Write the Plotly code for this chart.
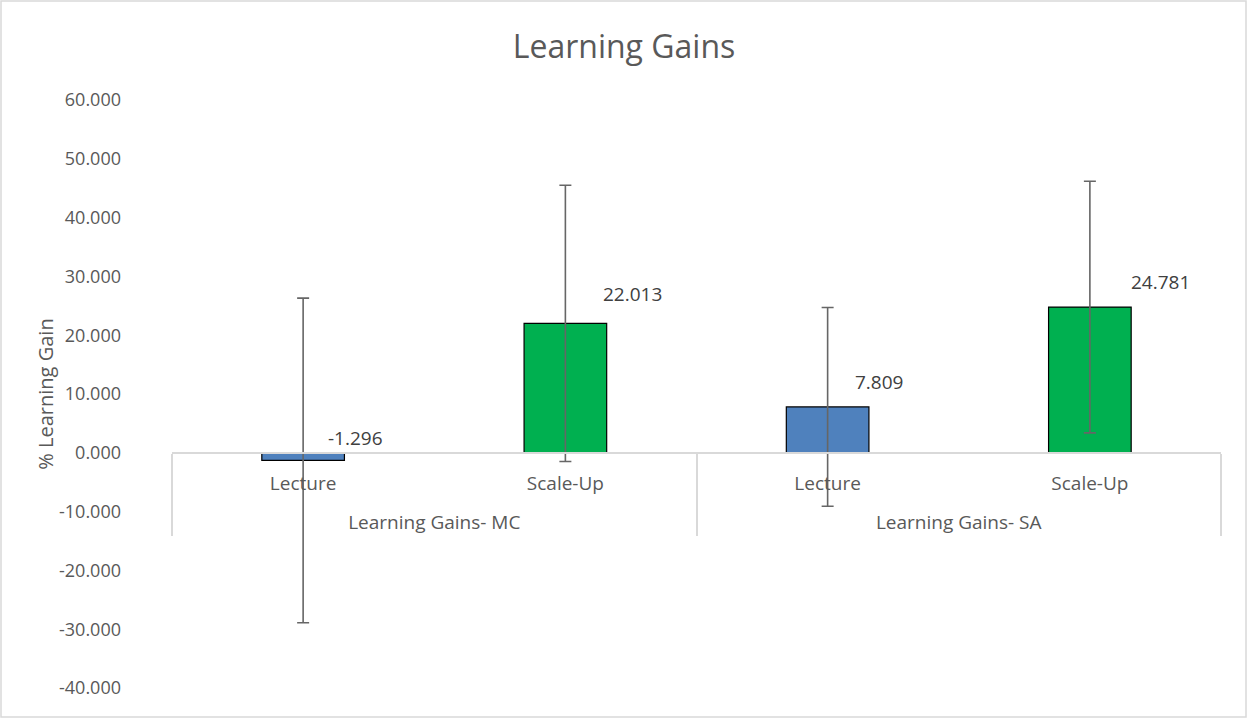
import plotly.graph_objects as go

groups = ["Learning Gains- MC", "Learning Gains- MC", "Learning Gains- SA", "Learning Gains- SA"]
methods = ["Lecture", "Scale-Up", "Lecture", "Scale-Up"]
gains = [-1.296, 22.013, 7.809, 24.781]
errors = [27.6, 23.5, 16.9, 21.4]
bar_colors = ["#4f81bd", "#00b050", "#4f81bd", "#00b050"]
y_ticks = [-40, -30, -20, -10, 0, 10, 20, 30, 40, 50, 60]

W, H = 1248, 719
L, R, T, B = 172, 27, 100, 31
pw, ph = W - L - R, H - T - B

# leading blank line drops the group labels a bit lower, Excel-style
grp_lbl = ["<br>" + g for g in groups]

fig = go.Figure()
fig.add_trace(
    go.Bar(
        x=[grp_lbl, methods],
        y=gains,
        width=0.315,
        marker=dict(color=bar_colors, line=dict(color="#000000", width=1.2)),
        error_y=dict(type="data", array=errors, visible=True, color="#666666", thickness=1.6, width=6),
        showlegend=False,
    )
)

# data labels, up and to the right of each bar end
xshifts = [52, 67, 51, 71]
yshifts = [22, 29, 25, 25]
for g, m, v, dx, dy in zip(grp_lbl, methods, gains, xshifts, yshifts):
    fig.add_annotation(
        x=[g, m], y=v, text=f"{v:.3f}", showarrow=False,
        xshift=dx, yshift=dy,
        font=dict(size=19, color="#404040"),
    )

# outer chart border
fig.add_shape(
    type="rect", xref="paper", yref="paper",
    x0=-(L - 1) / pw, x1=1 + (R - 2) / pw, y0=-(B - 2) / ph, y1=1 + (T - 1) / ph,
    line=dict(color="#d9d9d9", width=1.5), fillcolor="rgba(0,0,0,0)", layer="below",
)

zero_pos = (0 - y_ticks[0]) / (y_ticks[-1] - y_ticks[0])

fig.update_layout(
    width=W, height=H,
    margin=dict(l=L, r=R, t=T, b=B, autoexpand=False),
    paper_bgcolor="white", plot_bgcolor="white",
    font=dict(family="Open Sans", color="#595959", size=19),
    title=dict(text="Learning Gains", x=0.5, xanchor="center", y=0.935, yanchor="middle",
               font=dict(size=32, color="#595959")),
    xaxis=dict(
        type="multicategory", anchor="free", position=zero_pos,
        showline=True, linecolor="#d9d9d9", linewidth=1.5,
        showdividers=True, dividercolor="#d9d9d9", dividerwidth=1.5,
        showgrid=False, ticks="", ticklabelstandoff=14,
        tickfont=dict(size=19, color="#595959"),
    ),
    yaxis=dict(
        range=[y_ticks[0], y_ticks[-1]], tickvals=y_ticks,
        ticktext=[f"{v:.3f}" for v in y_ticks],
        showgrid=False, zeroline=False, showline=False, ticks="",
        ticklabelstandoff=50,
        tickfont=dict(size=18, color="#595959"), automargin=True,
        title=dict(text="% Learning Gain", font=dict(size=20, color="#595959"), standoff=0),
    ),
    bargap=0.3,
)

fig.write_html(
    "out.html",
    config={"displayModeBar": False},
    post_script="document.body.style.margin='0px';",
)
